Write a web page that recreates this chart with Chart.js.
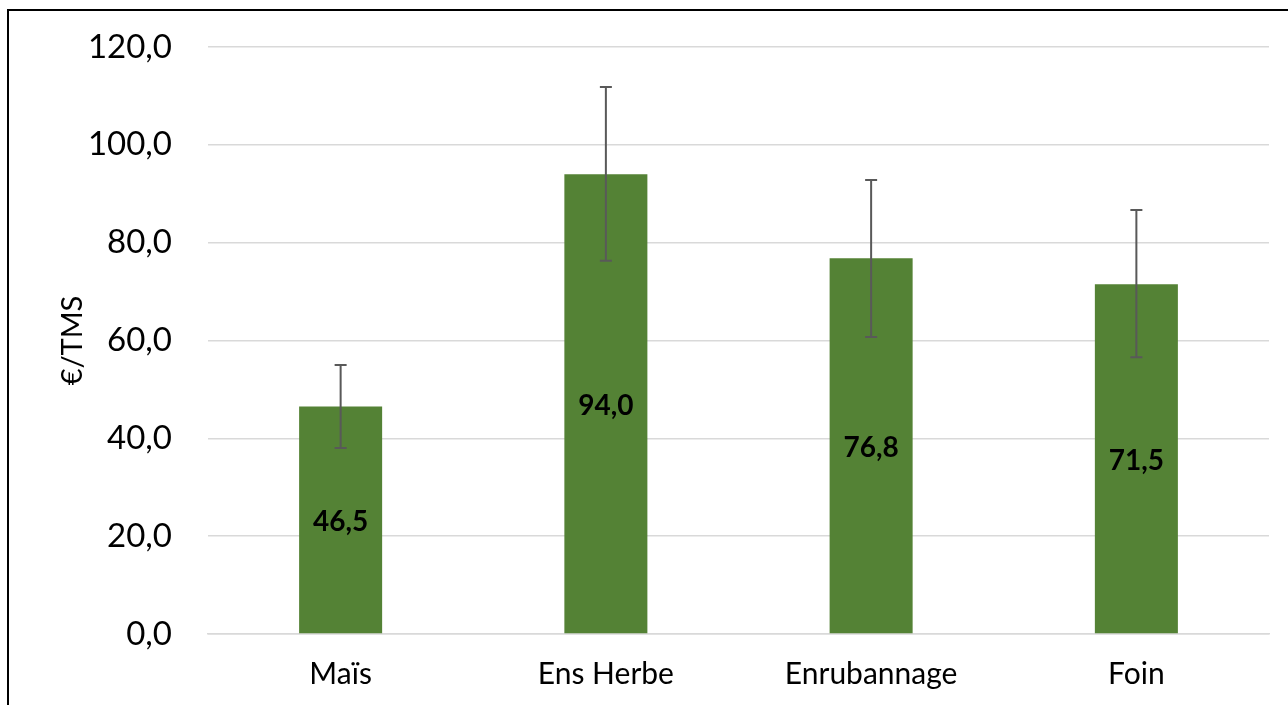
<!DOCTYPE html>
<html>
<head>
<meta charset="utf-8">
<script src="https://cdn.jsdelivr.net/npm/chart.js@4"></script>
<style>
  body { margin: 0; background: #fff; }
  #wrap { position: absolute; left: 0; top: 0; width: 1288px; height: 705px; }
  #frame { position: absolute; left: 7px; top: 9px; width: 1300px; height: 720px;
           border-left: 2px solid #000; border-top: 2px solid #000; }
</style>
</head>
<body>
<div id="wrap">
  <div id="frame"></div>
  <canvas id="des" width="1288" height="705"></canvas>
</div>
<script>
var categories = ['Maïs', 'Ens Herbe', 'Enrubannage', 'Foin'];
var valeurs = [46.5, 94.0, 76.8, 71.5];
var errHaut = [55.0, 111.8, 92.8, 86.7];
var errBas = [38.0, 76.3, 60.7, 56.6];
var yTicks = [0, 20, 40, 60, 80, 100, 120];

var police = 'Lato, "Open Sans", sans-serif';
function virgule(v) { return v.toFixed(1).replace('.', ','); }

// barres d'erreur + etiquettes dans les barres
var erreurs = {
  id: 'erreurs',
  afterDatasetsDraw: function(chart) {
    var c = chart.ctx;
    var meta = chart.getDatasetMeta(0);
    var y = chart.scales.y;
    c.save();
    meta.data.forEach(function(bar, i) {
      var x = bar.x;
      var h = y.getPixelForValue(errHaut[i]);
      var b = y.getPixelForValue(errBas[i]);
      c.strokeStyle = '#595959';
      c.lineWidth = 2;
      c.beginPath();
      c.moveTo(x, h); c.lineTo(x, b);
      c.moveTo(x - 6, h); c.lineTo(x + 6, h);
      c.moveTo(x - 6, b); c.lineTo(x + 6, b);
      c.stroke();
      c.fillStyle = '#000';
      c.font = 'bold 28px ' + police;
      c.textAlign = 'center';
      c.textBaseline = 'middle';
      var mid = (bar.y + bar.base) / 2;
      c.fillText(virgule(valeurs[i]), x, mid + 2);
    });
    c.restore();
  }
};

var chart = new Chart(document.getElementById('des'), {
  type: 'bar',
  data: {
    labels: categories,
    datasets: [{
      label: '€/TMS',
      data: valeurs,
      backgroundColor: '#548235',
      borderWidth: 0,
      barPercentage: 0.313,
      categoryPercentage: 1
    }]
  },
  options: {
    responsive: false,
    animation: false,
    devicePixelRatio: 1,
    layout: { padding: { left: 47, right: 19, top: 47, bottom: 0 } },
    plugins: { legend: { display: false }, tooltip: { enabled: false } },
    scales: {
      y: {
        min: 0, max: 120,
        afterBuildTicks: function(ax) { ax.ticks = yTicks.map(function(v) { return { value: v }; }); },
        afterFit: function(ax) { ax.width = 161; ax.paddingTop = 0; ax.paddingBottom = 0; },
        border: { display: false },
        grid: { color: '#d9d9d9', lineWidth: 1.5, drawTicks: false },
        ticks: {
          padding: 36,
          color: '#000',
          font: { family: police, size: 33 },
          callback: function(v) { return virgule(v); }
        },
        title: {
          display: true,
          text: '€/TMS',
          color: '#000',
          font: { family: police, size: 29 },
          padding: { top: 8, bottom: 0 }
        }
      },
      x: {
        afterFit: function(ax) { ax.height = 71; ax.paddingLeft = 0; ax.paddingRight = 0; },
        border: { display: true, color: '#d9d9d9', width: 1.5 },
        grid: { display: false, drawTicks: false },
        ticks: {
          padding: 22,
          color: '#000',
          font: { family: police, size: 30 }
        }
      }
    }
  },
  plugins: [erreurs]
});
</script>
</body>
</html>
